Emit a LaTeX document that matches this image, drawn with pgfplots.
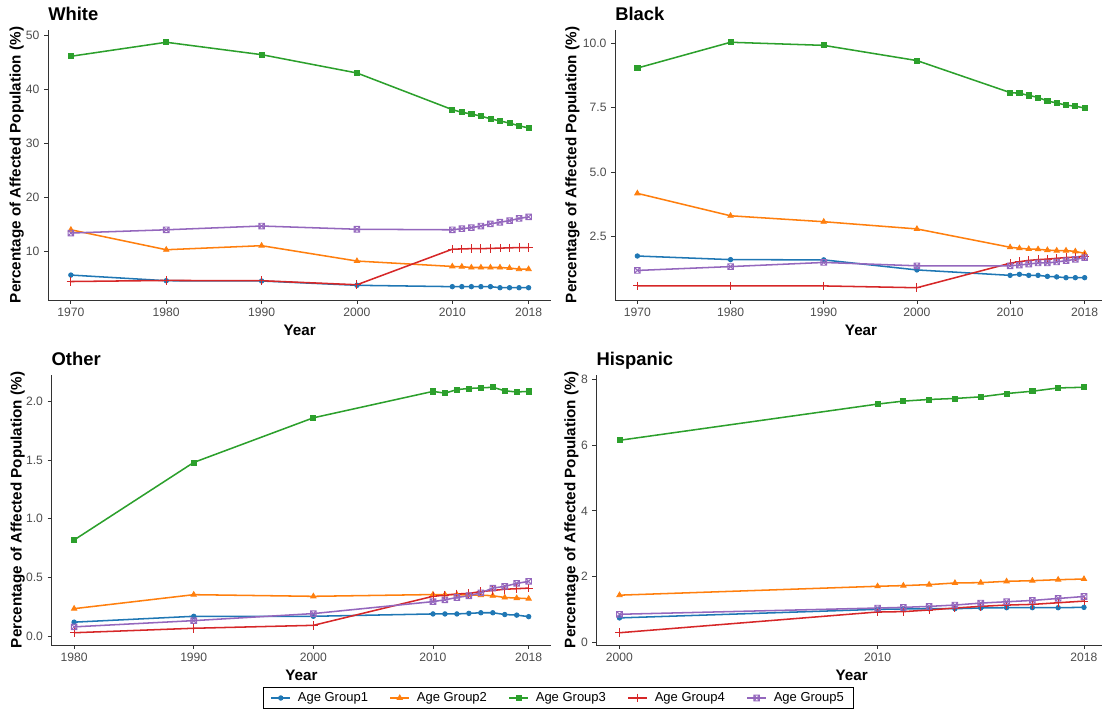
\documentclass[border=0pt]{standalone}
\usepackage{fontspec}
\setmainfont{Liberation Sans}[BoldFont={Liberation Sans Bold}, ItalicFont={Liberation Sans Italic}]
\setsansfont{Liberation Sans}[BoldFont={Liberation Sans Bold}]
\usepackage{pgfplots}
\pgfplotsset{compat=1.18}

\definecolor{c1}{HTML}{1F77B4}
\definecolor{c2}{HTML}{FF7F0E}
\definecolor{c3}{HTML}{2CA02C}
\definecolor{c4}{HTML}{D62728}
\definecolor{c5}{HTML}{9467BD}
\definecolor{ticktext}{HTML}{4D4D4D}
\definecolor{axisgray}{HTML}{333333}

% open square with a diagonal cross
\pgfdeclareplotmark{squarex}{%
  \pgfpathrectangle{\pgfpoint{-\pgfplotmarksize}{-\pgfplotmarksize}}{\pgfpoint{2\pgfplotmarksize}{2\pgfplotmarksize}}%
  \pgfpathmoveto{\pgfpoint{-\pgfplotmarksize}{-\pgfplotmarksize}}%
  \pgfpathlineto{\pgfpoint{\pgfplotmarksize}{\pgfplotmarksize}}%
  \pgfpathmoveto{\pgfpoint{-\pgfplotmarksize}{\pgfplotmarksize}}%
  \pgfpathlineto{\pgfpoint{\pgfplotmarksize}{-\pgfplotmarksize}}%
  \pgfusepathqstroke}

\newcommand{\labfont}{\fontsize{11.4}{13}\selectfont\bfseries}
\newcommand{\titfont}{\fontsize{13.8}{16}\selectfont\bfseries}

\pgfplotsset{
  panel/.style={
    scale only axis,
    height=202.5pt,
    axis x line*=bottom,
    axis y line*=left,
    axis line style={-, draw=axisgray, line width=0.6pt},
    tick align=outside,
    major tick length=2.85pt,
    tick style={draw=axisgray, line width=0.6pt},
    x tick label style={font=\fontsize{9.1}{10}\selectfont, text=ticktext},
    y tick label style={font=\fontsize{9.1}{10}\selectfont, text=ticktext},
    /pgf/number format/assume math mode=true,
    xlabel={Year},
    ylabel={Percentage of Affected Population (\%)},
    every axis x label/.style={at={([yshift=-26.8pt]rel axis cs:0.5,0)}, anchor=base, font=\labfont},
    every axis title/.style={at={(rel axis cs:0,1)}, anchor=base west, yshift=7pt, inner sep=0pt, font=\titfont},
    clip=false,
  },
  ylab/.style={every axis y label/.style={at={([xshift=-#1]rel axis cs:0,0.5)}, rotate=90, anchor=base, font=\labfont}},
  g1/.style={c1, line width=1.15pt, mark=*, mark size=1.7pt, mark options={solid, line width=0.6pt}},
  g2/.style={c2, line width=1.15pt, mark=triangle*, mark size=2.3pt, mark options={solid, line width=0.6pt}},
  g3/.style={c3, line width=1.15pt, mark=square*, mark size=1.9pt, mark options={solid, line width=0.6pt}},
  g4/.style={c4, line width=1.15pt, mark=+, mark size=3.2pt, mark options={solid, line width=0.7pt}},
  g5/.style={c5, line width=1.15pt, mark=squarex, mark size=2.1pt, mark options={solid, line width=0.7pt, fill=none}},
}

\begin{document}
\begin{tikzpicture}
\useasboundingbox (0pt,0pt) rectangle (826.5pt,-534pt);

% ---------------- White ----------------
\begin{axis}[panel, ylab=20.5pt,
  at={(36pt,-22.5pt)}, anchor=north west, width=377.6pt,
  title={White},
  xmin=1967.6, xmax=2020.4, ymin=0.9725, ymax=51.0775,
  xtick={1970,1980,1990,2000,2010,2018},
  xticklabels={1970,1980,1990,2000,2010,2018},
  ytick={10,20,30,40,50},
]
\addplot[g1] coordinates {(1970,5.6)(1980,4.55)(1990,4.5)(2000,3.7)(2010,3.45)(2011,3.45)(2012,3.45)(2013,3.45)(2014,3.45)(2015,3.25)(2016,3.25)(2017,3.25)(2018,3.25)};
\addplot[g2] coordinates {(1970,14.0)(1980,10.3)(1990,11.05)(2000,8.2)(2010,7.2)(2011,7.15)(2012,7.0)(2013,7.0)(2014,7.0)(2015,7.0)(2016,6.9)(2017,6.7)(2018,6.7)};
\addplot[g3] coordinates {(1970,46.2)(1980,48.8)(1990,46.5)(2000,43.1)(2010,36.3)(2011,35.8)(2012,35.5)(2013,35.1)(2014,34.6)(2015,34.2)(2016,33.8)(2017,33.3)(2018,32.9)};
\addplot[g4] coordinates {(1970,4.4)(1980,4.6)(1990,4.55)(2000,3.8)(2010,10.4)(2011,10.45)(2012,10.5)(2013,10.5)(2014,10.55)(2015,10.6)(2016,10.65)(2017,10.7)(2018,10.7)};
\addplot[g5] coordinates {(1970,13.4)(1980,14.0)(1990,14.7)(2000,14.1)(2010,14.0)(2011,14.2)(2012,14.4)(2013,14.7)(2014,15.1)(2015,15.4)(2016,15.7)(2017,16.1)(2018,16.4)};
\end{axis}

% ---------------- Black ----------------
\begin{axis}[panel, ylab=29pt,
  at={(461.25pt,-22.5pt)}, anchor=north west, width=369pt,
  title={Black},
  xmin=1967.6, xmax=2020.4, ymin=0.044, ymax=10.516,
  xtick={1970,1980,1990,2000,2010,2018},
  xticklabels={1970,1980,1990,2000,2010,2018},
  ytick={2.5,5,7.5,10},
  yticklabels={2.5,5.0,7.5,10.0},
]
\addplot[g1] coordinates {(1970,1.75)(1980,1.61)(1990,1.6)(2000,1.21)(2010,1.0)(2011,1.04)(2012,1.0)(2013,1.0)(2014,0.96)(2015,0.94)(2016,0.91)(2017,0.91)(2018,0.91)};
\addplot[g2] coordinates {(1970,4.18)(1980,3.31)(1990,3.08)(2000,2.8)(2010,2.09)(2011,2.05)(2012,2.02)(2013,2.01)(2014,1.98)(2015,1.96)(2016,1.96)(2017,1.93)(2018,1.85)};
\addplot[g3] coordinates {(1970,9.04)(1980,10.04)(1990,9.92)(2000,9.33)(2010,8.09)(2011,8.06)(2012,7.98)(2013,7.9)(2014,7.76)(2015,7.69)(2016,7.6)(2017,7.56)(2018,7.49)};
\addplot[g4] coordinates {(1970,0.59)(1980,0.59)(1990,0.59)(2000,0.52)(2010,1.47)(2011,1.53)(2012,1.58)(2013,1.61)(2014,1.63)(2015,1.66)(2016,1.69)(2017,1.71)(2018,1.75)};
\addplot[g5] coordinates {(1970,1.19)(1980,1.34)(1990,1.5)(2000,1.37)(2010,1.37)(2011,1.4)(2012,1.44)(2013,1.48)(2014,1.48)(2015,1.52)(2016,1.57)(2017,1.62)(2018,1.69)};
\end{axis}

% ---------------- Other ----------------
\begin{axis}[panel, ylab=22.4pt,
  at={(38.55pt,-281.25pt)}, anchor=north west, width=375pt,
  title={Other},
  xmin=1978.1, xmax=2019.9, ymin=-0.0745, ymax=2.2245,
  xtick={1980,1990,2000,2010,2018},
  xticklabels={1980,1990,2000,2010,2018},
  ytick={0,0.5,1,1.5,2},
  yticklabels={0.0,0.5,1.0,1.5,2.0},
]
\addplot[g1] coordinates {(1980,0.12)(1990,0.17)(2000,0.17)(2010,0.19)(2011,0.19)(2012,0.19)(2013,0.195)(2014,0.2)(2015,0.2)(2016,0.185)(2017,0.18)(2018,0.167)};
\addplot[g2] coordinates {(1980,0.235)(1990,0.354)(2000,0.34)(2010,0.355)(2011,0.355)(2012,0.355)(2013,0.35)(2014,0.35)(2015,0.345)(2016,0.33)(2017,0.325)(2018,0.32)};
\addplot[g3] coordinates {(1980,0.82)(1990,1.48)(2000,1.86)(2010,2.085)(2011,2.07)(2012,2.10)(2013,2.11)(2014,2.115)(2015,2.12)(2016,2.09)(2017,2.08)(2018,2.085)};
\addplot[g4] coordinates {(1980,0.03)(1990,0.068)(2000,0.093)(2010,0.34)(2011,0.35)(2012,0.36)(2013,0.365)(2014,0.38)(2015,0.39)(2016,0.40)(2017,0.405)(2018,0.41)};
\addplot[g5] coordinates {(1980,0.08)(1990,0.133)(2000,0.193)(2010,0.295)(2011,0.31)(2012,0.33)(2013,0.345)(2014,0.37)(2015,0.41)(2016,0.425)(2017,0.45)(2018,0.467)};
\end{axis}

% ---------------- Hispanic ----------------
\begin{axis}[panel, ylab=15.7pt,
  at={(447.2pt,-281.25pt)}, anchor=north west, width=383.2pt,
  title={Hispanic},
  xmin=1999.1, xmax=2018.9, ymin=-0.0725, ymax=8.1225,
  xtick={2000,2010,2018},
  xticklabels={2000,2010,2018},
  ytick={0,2,4,6,8},
  legend columns=5,
  legend style={at={(rel axis cs:-0.074,-0.1963)}, anchor=center,
    draw=black, line width=0.75pt, inner xsep=5pt, inner ysep=1.5pt,
    font=\fontsize{9.75}{11}\selectfont,
    /tikz/every odd column/.append style={column sep=3pt},
    /tikz/every even column/.append style={column sep=14pt}},
  legend image code/.code={\draw[mark repeat=2, mark phase=2] plot coordinates {(0pt,0pt) (7.25pt,0pt) (14.5pt,0pt)};},
]
\addplot[g1] coordinates {(2000,0.75)(2010,1.01)(2011,1.02)(2012,1.03)(2013,1.03)(2014,1.05)(2015,1.06)(2016,1.06)(2017,1.06)(2018,1.07)};
\addplot[g2] coordinates {(2000,1.44)(2010,1.71)(2011,1.73)(2012,1.76)(2013,1.81)(2014,1.82)(2015,1.86)(2016,1.88)(2017,1.91)(2018,1.93)};
\addplot[g3] coordinates {(2000,6.14)(2010,7.24)(2011,7.33)(2012,7.38)(2013,7.41)(2014,7.46)(2015,7.56)(2016,7.63)(2017,7.73)(2018,7.75)};
\addplot[g4] coordinates {(2000,0.3)(2010,0.93)(2011,0.94)(2012,0.99)(2013,1.05)(2014,1.1)(2015,1.14)(2016,1.16)(2017,1.21)(2018,1.26)};
\addplot[g5] coordinates {(2000,0.86)(2010,1.05)(2011,1.07)(2012,1.1)(2013,1.14)(2014,1.2)(2015,1.24)(2016,1.28)(2017,1.34)(2018,1.4)};
\legend{Age Group1,Age Group2,Age Group3,Age Group4,Age Group5}
\end{axis}
\end{tikzpicture}
\end{document}
